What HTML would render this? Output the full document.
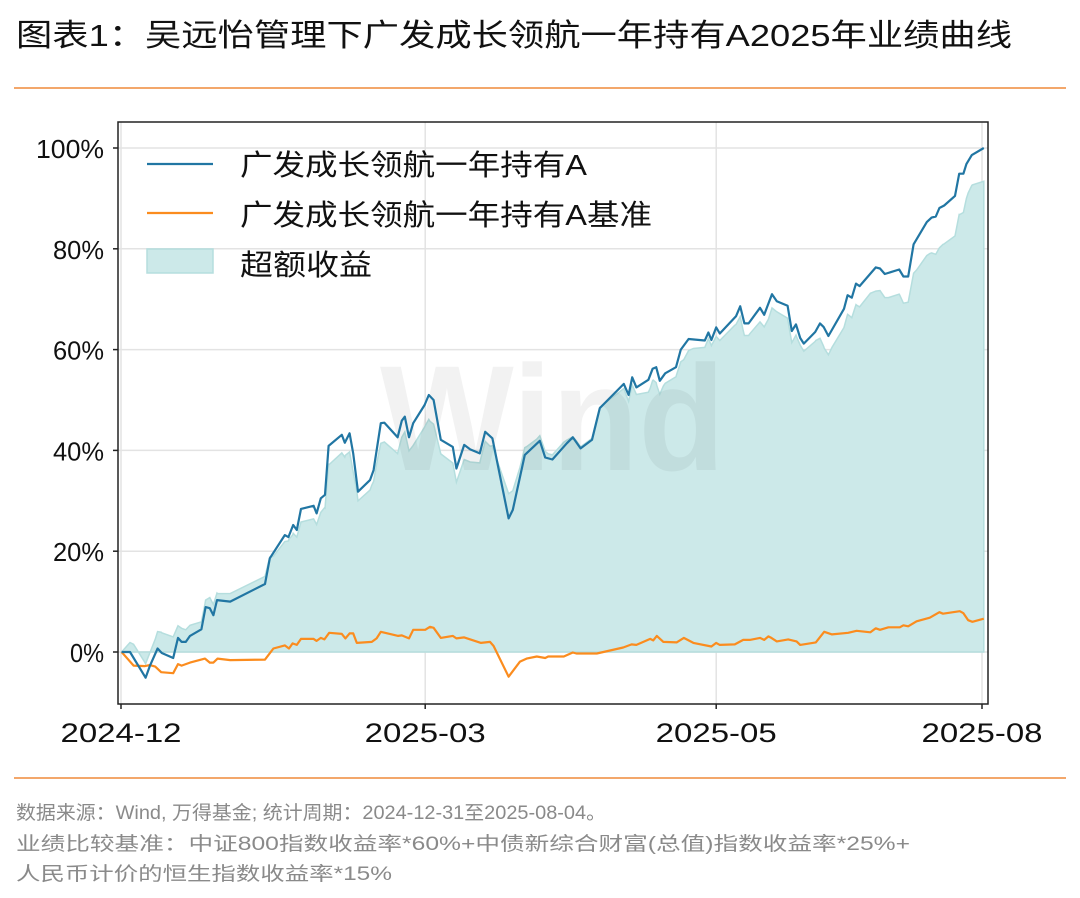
<!DOCTYPE html>
<html><head><meta charset="utf-8">
<style>
body{margin:0;background:#fff;width:1080px;height:898px;overflow:hidden;font-family:"Liberation Sans","Noto Sans CJK SC",sans-serif;}
</style></head><body>
<svg id="chart" width="1080" height="898" style="position:absolute;left:0;top:0"></svg>
<script>
const fundX=[0.1,1.5,4.1,4.8,6.1,6.8,8.7,9.5,10.1,10.8,11.5,13.4,14.1,14.8,15.4,16.0,18.2,24.0,24.8,27.3,27.9,28.7,29.3,30.0,32.1,32.6,33.3,34.0,34.6,36.8,37.3,38.1,38.7,39.5,41.5,42.1,43.3,43.9,46.1,46.8,47.3,48.0,48.7,50.6,51.3,52.1,53.3,55.3,55.9,57.2,58.2,59.8,60.7,61.9,64.6,65.3,67.3,69.8,70.7,71.9,74.3,75.3,76.6,78.5,79.8,83.8,84.6,85.2,85.9,87.9,88.6,89.2,89.8,90.7,92.5,93.3,94.6,97.3,97.9,98.4,99.2,99.8,102.5,103.2,103.9,104.6,106.5,107.2,107.7,108.5,109.3,111.1,111.8,112.5,113.2,113.8,115.7,116.5,117.1,117.9,120.5,121.1,121.8,122.5,123.1,125.8,126.5,127.3,129.7,130.4,131.2,132.1,134.3,135.1,135.8,136.4,137.2,139.0,139.7,140.4,140.9,141.8,143.8];
const fundY=[0,0,-5.1,-2.8,0.7,-0.2,-1.2,2.8,2.0,2.0,3.2,4.5,8.9,8.7,7.3,10.3,10.0,13.5,18.6,23.2,22.8,25.2,24.2,28.4,29.0,27.5,30.5,31.2,40.9,43.1,41.5,43.4,39.4,31.8,34.1,36.1,45.4,45.5,42.6,45.9,46.7,42.6,45.4,49.0,51.0,50.0,42.1,40.7,36.4,41.1,40.2,39.4,43.7,42.4,26.5,28.2,39.1,41.9,38.6,38.2,41.4,42.6,40.4,42.1,48.4,53.2,51.0,54.5,52.5,54.0,56.2,56.5,53.8,55.3,56.5,60.0,62.1,61.8,63.4,61.9,64.4,63.2,66.6,68.6,65.2,65.2,68.3,66.9,68.5,71.0,69.6,68.7,63.7,65.0,62.3,61.2,63.5,65.2,64.5,62.7,68.1,70.8,70.3,73.1,72.6,76.3,76.1,75.0,75.9,74.5,74.5,80.9,85.3,86.2,86.4,88.1,88.6,90.5,94.9,94.9,96.8,98.6,100];
const benchX=[0.1,2.1,4.0,4.8,5.7,6.7,8.7,9.5,10.1,11.5,14.0,14.8,15.4,16.1,18.2,24.0,25.4,27.3,28.0,28.6,29.3,30.0,32.1,32.6,33.3,33.9,34.7,36.8,37.4,38.1,38.7,39.3,41.8,42.6,43.3,46.2,46.8,48.0,48.7,50.7,51.5,52.1,53.3,55.3,55.9,57.2,60.0,61.5,62.1,64.6,66.5,67.6,69.3,70.7,71.2,73.8,75.3,75.9,79.3,83.7,85.1,85.9,88.2,88.7,89.3,90.4,92.6,93.8,95.4,98.4,99.2,99.8,102.3,103.7,104.8,106.5,107.2,107.9,108.4,109.3,111.2,112.6,113.2,115.8,117.2,118.5,121.2,122.6,124.9,125.8,126.5,127.9,129.8,130.4,131.2,132.6,134.8,136.4,137.0,139.8,140.4,141.2,141.9,143.8];
const benchY=[0,-2.7,-2.8,-2.6,-2.9,-4.0,-4.2,-2.4,-2.7,-2.1,-1.3,-2.1,-2.1,-1.3,-1.6,-1.5,0.7,1.3,0.7,1.7,1.4,2.6,2.6,2.2,2.8,2.5,3.8,3.6,2.7,3.7,3.7,1.8,2.0,2.7,4.0,3.2,3.3,2.7,4.4,4.4,5.0,4.8,2.8,3.2,2.7,2.9,1.8,2.0,1.2,-4.9,-1.9,-1.3,-0.9,-1.2,-0.9,-0.9,-0.1,-0.3,-0.3,0.9,1.5,1.4,2.6,2.3,3.2,2.0,1.9,2.8,1.8,1.1,1.8,1.4,1.5,2.4,2.4,2.8,2.4,3.1,2.8,2.1,2.5,2.1,1.4,1.9,4.0,3.5,3.8,4.2,3.9,4.7,4.4,4.9,4.9,5.3,5.1,6.1,6.8,7.9,7.6,8.1,7.7,6.3,6.0,6.6];
const yTicks=[0,20,40,60,80,100];
const xTickPos=[0,50.7,99.2,143.5];
const xTickLabels=["2024-12","2025-03","2025-05","2025-08"];

const L=118,R=988,T=122,B=704;
const xs=t=>121+t*6;
const ys=v=>652-v*5.04;
const NS="http://www.w3.org/2000/svg";
const svg=document.getElementById('chart');
const FONT='Liberation Sans, Noto Sans CJK SC, sans-serif';
function mk(tag,attrs,parent){const e=document.createElementNS(NS,tag);for(const k in attrs)e.setAttribute(k,attrs[k]);(parent||svg).appendChild(e);return e;}
function interp(X,Y,t){if(t<=X[0])return Y[0];for(let i=1;i<X.length;i++){if(t<=X[i]){const f=(t-X[i-1])/(X[i]-X[i-1]);return Y[i-1]+f*(Y[i]-Y[i-1]);}}return Y[Y.length-1];}
function txt(s,attrs,parent){const e=mk('text',Object.assign({'font-family':FONT,lengthAdjust:'spacingAndGlyphs'},attrs),parent);e.textContent=s;return e;}

const ti=txt('图表1：吴远怡管理下广发成长领航一年持有A2025年业绩曲线',{x:16,y:46,'font-size':31,fill:'#111',textLength:996});


[88,778].forEach(y=>{const r=mk('line',{x1:14,x2:1066,y1:y,y2:y,stroke:'#ef8a3a','stroke-width':1.6});

});
[['数据来源：Wind, 万得基金; 统计周期：2024-12-31至2025-08-04。',819,590,'source-note'],
 ['业绩比较基准：中证800指数收益率*60%+中债新综合财富(总值)指数收益率*25%+',850,894,'benchmark-note'],
 ['人民币计价的恒生指数收益率*15%',880,376,'benchmark-note-2']].forEach(a=>{
 const n=txt(a[0],{x:16,y:a[1],'font-size':19,fill:'#8a8a8a',textLength:a[2]});
 
 });

yTicks.forEach(v=>{const g=mk('line',{x1:L,x2:R,y1:ys(v),y2:ys(v),stroke:'#e3e3e3','stroke-width':1.5});

});
xTickPos.forEach(t=>{const g=mk('line',{x1:xs(t),x2:xs(t),y1:T,y2:B,stroke:'#e3e3e3','stroke-width':1.5});

});

const allX=[...new Set(fundX.concat(benchX))].sort((a,b)=>a-b);
let d='M'+xs(allX[0])+','+ys(0);
allX.forEach(t=>{d+='L'+xs(t).toFixed(1)+','+ys(interp(fundX,fundY,t)-interp(benchX,benchY,t)).toFixed(1);});
d+='L'+xs(allX[allX.length-1])+','+ys(0)+'Z';
const area=mk('path',{d:d,fill:'#cce9e9',stroke:'#b5dede','stroke-width':1.5});



const wm=txt('Wind',{x:380,y:470,'font-size':150,'font-weight':'bold',fill:'rgba(0,0,0,0.05)',textLength:345});



function line(X,Y,color,name){let p='';X.forEach((t,i)=>{p+=(i?'L':'M')+xs(t).toFixed(1)+','+ys(Y[i]).toFixed(1);});
const e=mk('path',{d:p,fill:'none',stroke:color,'stroke-width':2.2,'stroke-linejoin':'round'});

}
line(benchX,benchY,'#fb8c1e','benchmark-line');
line(fundX,fundY,'#2176a3','fund-line');

const fr=mk('rect',{x:L,y:T,width:R-L,height:B-T,fill:'none',stroke:'#222','stroke-width':1.5});



yTicks.forEach(v=>{mk('line',{x1:L-5,x2:L,y1:ys(v),y2:ys(v),stroke:'#222','stroke-width':1.5});
const s=v+'%';
const tx=txt(s,{x:104,y:ys(v)+10,'font-size':26,'text-anchor':'end',fill:'#111',textLength:s.length*17});

});
xTickPos.forEach((t,i)=>{mk('line',{x1:xs(t),x2:xs(t),y1:B,y2:B+5,stroke:'#222','stroke-width':1.5});
const tx=txt(xTickLabels[i],{x:xs(t),y:742,'font-size':27,'text-anchor':'middle',fill:'#111',textLength:121});

});

const lg=mk('g',{});


mk('line',{x1:147,x2:213,y1:164,y2:164,stroke:'#2176a3','stroke-width':2.2},lg);
mk('line',{x1:147,x2:213,y1:213,y2:213,stroke:'#fb8c1e','stroke-width':2.2},lg);
mk('rect',{x:147,y:249,width:66,height:24,fill:'#cce9e9',stroke:'#b5dede','stroke-width':1.5},lg);
[['广发成长领航一年持有A',175,347,'legend-fund'],['广发成长领航一年持有A基准',225,412,'legend-benchmark'],['超额收益',275,132,'legend-excess']].forEach(a=>{
const tx=txt(a[0],{x:240,y:a[1],'font-size':29,fill:'#111',textLength:a[2]},lg);

});
</script>
</body></html>
